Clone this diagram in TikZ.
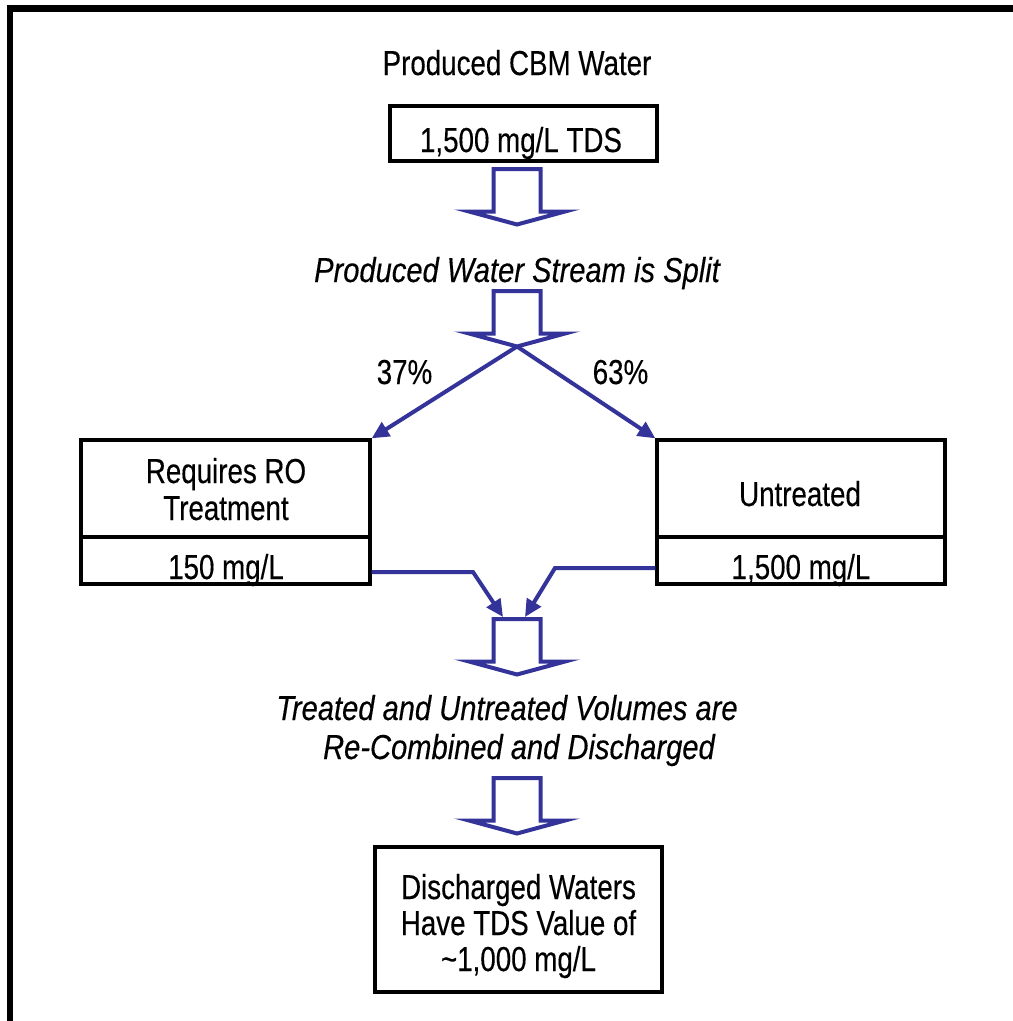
\documentclass[tikz,border=0pt]{standalone}
\usepackage{fontspec}
\setmainfont{Liberation Sans}[FakeStretch=0.80, FakeBold=0.3]
\newfontfamily\itfont{Liberation Sans Italic}[FakeStretch=0.84, FakeBold=0.3]
\usetikzlibrary{arrows.meta,calc}
\definecolor{flowblue}{RGB}{51,51,153}
\tikzset{
  box/.style={draw=black, line width=2.5pt, inner sep=0pt},
  txt/.style={inner sep=0pt, anchor=base, font=\fontsize{26}{30}\selectfont},
  itxt/.style={txt, font=\fontsize{26}{30}\selectfont\itfont},
  barrow/.style={draw=flowblue, line width=3pt, line join=miter},
  flowarrow/.style={draw=flowblue, line width=3pt, -{Triangle[length=13pt,width=12pt]}},
  blockarrow/.pic={
    \draw[barrow] (-23.5,0) -- (23.5,0) -- (23.5,42.5) -- (48,42.5) -- (0,55.5) -- (-48,42.5) -- (-23.5,42.5) -- cycle;
    \coordinate (-tip) at (0,55.5);
  }
}
\begin{document}
\begin{tikzpicture}[x=0.75pt,y=-0.75pt]
\useasboundingbox (0,0) rectangle (1013,1021);
\fill[white] (0,0) rectangle (1013,1021);
% outer frame (runs off the right and bottom edges)
\draw[line width=5pt] (10,1060) -- (10,8.5) -- (1060,8.5);

% top
\node[txt] (title) at (517,75) {Produced CBM Water};
\node[box, minimum width=200.25pt, minimum height=41.25pt] (b1) at (523.5,133.5) {};
\node[txt] (b1t) at (521,152) {1,500 mg/L TDS};
\pic (a1) at (517,169) {blockarrow};
\node[itxt] (split) at (517,282) {Produced Water Stream is Split};
\pic (a2) at (517,291) {blockarrow};

% percentages
\node[txt] (p37) at (404.5,384) {37\%};
\node[txt] (p63) at (620.5,384) {63\%};

% left box
\node[box, minimum width=216.75pt, minimum height=72.75pt] (lt) at (225.5,488.5) {};
\node[box, minimum width=216.75pt, minimum height=35.25pt] (lb) at (225.5,560.5) {};
\node[txt] (lt1) at (226,483) {Requires RO};
\node[txt] (lt2) at (226,520) {Treatment};
\node[txt] (lbt) at (226,579) {150 mg/L};

% right box
\node[box, minimum width=216pt, minimum height=72.75pt] (rt) at (801,488.5) {};
\node[box, minimum width=216pt, minimum height=35.25pt] (rb) at (801,560.5) {};
\node[txt] (rt1) at (800,506) {Untreated};
\node[txt] (rbt) at (801,579) {1,500 mg/L};

% split arrows
\draw[flowarrow] (a2-tip) -- (lt.north east);
\draw[flowarrow] (a2-tip) -- (rt.north west);

% recombine
\pic (a3) at (517,619) {blockarrow};
\coordinate (lbend) at (473,572);
\coordinate (rbend) at (555,568);
\coordinate (lin) at (503,617);
\coordinate (rin) at (525,617);
\draw[flowarrow] (lb.east |- lbend) -- (lbend) -- (lin);
\draw[flowarrow] (rb.west |- rbend) -- (rbend) -- (rin);

\node[itxt] (c1) at (507,720) {Treated and Untreated Volumes are};
\node[itxt] (c2) at (519,759) {Re-Combined and Discharged};
\pic (a4) at (517,778) {blockarrow};

% bottom box
\node[box, minimum width=215.25pt, minimum height=108.75pt] (b3) at (518.5,919.5) {};
\node[txt] (b3a) at (518.5,899) {Discharged Waters};
\node[txt] (b3b) at (518.5,935) {Have TDS Value of};
\node[txt] (b3c) at (518.5,971) {\textasciitilde 1,000 mg/L};
\end{tikzpicture}
\end{document}
